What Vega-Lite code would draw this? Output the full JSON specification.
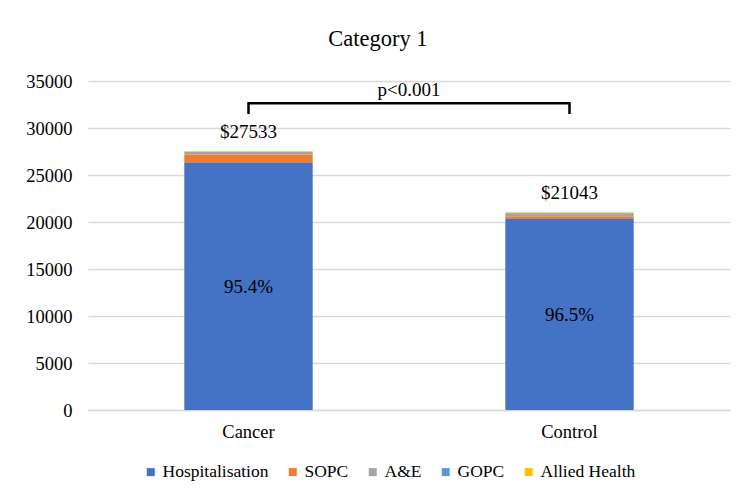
{
  "$schema": "https://vega.github.io/schema/vega-lite/v6.json",
  "width": 642,
  "height": 329,
  "autosize": {"type": "none"},
  "padding": {"left": 88, "top": 81, "right": 17, "bottom": 93},
  "background": "white",
  "config": {
    "view": {"stroke": null},
    "font": "Liberation Serif",
    "text": {"font": "Liberation Serif"}
  },
  "title": {
    "text": "Category 1",
    "font": "Liberation Serif",
    "fontSize": 22.5,
    "fontWeight": "normal",
    "color": "#000000",
    "anchor": "middle",
    "frame": "bounds",
    "offset": 22
  },
  "datasets": {
    "costs": [
      {"group": "Cancer", "service": "Hospitalisation", "idx": 1, "cost": 26266},
      {"group": "Cancer", "service": "SOPC", "idx": 2, "cost": 890},
      {"group": "Cancer", "service": "A&E", "idx": 3, "cost": 290},
      {"group": "Cancer", "service": "GOPC", "idx": 4, "cost": 30},
      {"group": "Cancer", "service": "Allied Health", "idx": 5, "cost": 57},
      {"group": "Control", "service": "Hospitalisation", "idx": 1, "cost": 20306},
      {"group": "Control", "service": "SOPC", "idx": 2, "cost": 300},
      {"group": "Control", "service": "A&E", "idx": 3, "cost": 330},
      {"group": "Control", "service": "GOPC", "idx": 4, "cost": 40},
      {"group": "Control", "service": "Allied Health", "idx": 5, "cost": 67}
    ],
    "labels": [
      {"group": "Cancer", "total": 27533, "totalLabel": "$27533", "pctLabel": "95.4%", "pctPos": 13133},
      {"group": "Control", "total": 21043, "totalLabel": "$21043", "pctLabel": "96.5%", "pctPos": 10153}
    ],
    "bracket": [
      {"group": "Cancer", "step": 1, "y": 31490},
      {"group": "Cancer", "step": 2, "y": 32640},
      {"group": "Control", "step": 3, "y": 32640},
      {"group": "Control", "step": 4, "y": 31490}
    ],
    "ptext": [
      {"label": "p<0.001", "y": 34050}
    ]
  },
  "layer": [
    {
      "data": {"name": "costs"},
      "mark": {"type": "bar"},
      "encoding": {
        "x": {
          "field": "group", "type": "nominal", "sort": ["Cancer", "Control"],
          "scale": {"paddingInner": 0.6, "paddingOuter": 0.3},
          "axis": {
            "title": null, "labelAngle": 0, "ticks": false,
            "domainColor": "#d9d9d9", "domainWidth": 1.5,
            "labelFont": "Liberation Serif", "labelFontSize": 18.5,
            "labelColor": "#000000", "labelPadding": 12
          }
        },
        "y": {
          "field": "cost", "type": "quantitative", "aggregate": "sum", "stack": "zero",
          "scale": {"domain": [0, 35000], "nice": false},
          "axis": {
            "title": null, "values": [0, 5000, 10000, 15000, 20000, 25000, 30000, 35000],
            "format": "d", "domain": false, "ticks": false,
            "gridColor": "#d9d9d9", "gridWidth": 1.5,
            "labelFont": "Liberation Serif", "labelFontSize": 18.5,
            "labelColor": "#000000", "labelPadding": 16
          }
        },
        "color": {
          "field": "service", "type": "nominal",
          "scale": {
            "domain": ["Hospitalisation", "SOPC", "A&E", "GOPC", "Allied Health"],
            "range": ["#4472C4", "#ED7D31", "#A5A5A5", "#5B9BD5", "#FFC000"]
          },
          "legend": {
            "title": null, "orient": "none", "legendX": 54, "legendY": 382,
            "direction": "horizontal", "columns": 5,
            "symbolType": "square", "symbolSize": 64, "symbolStrokeWidth": 0,
            "labelFont": "Liberation Serif", "labelFontSize": 17.5, "labelColor": "#000000",
            "columnPadding": 15, "labelOffset": 3
          }
        },
        "order": {"field": "idx", "type": "quantitative", "sort": "ascending"}
      }
    },
    {
      "data": {"name": "labels"},
      "mark": {"type": "text", "baseline": "middle", "dy": -19, "fontSize": 19, "color": "#000000"},
      "encoding": {
        "x": {"field": "group", "type": "nominal", "sort": ["Cancer", "Control"]},
        "y": {"field": "total", "type": "quantitative"},
        "text": {"field": "totalLabel"}
      }
    },
    {
      "data": {"name": "labels"},
      "mark": {"type": "text", "baseline": "middle", "fontSize": 19, "color": "#000000"},
      "encoding": {
        "x": {"field": "group", "type": "nominal", "sort": ["Cancer", "Control"]},
        "y": {"field": "pctPos", "type": "quantitative"},
        "text": {"field": "pctLabel"}
      }
    },
    {
      "data": {"name": "bracket"},
      "mark": {"type": "line", "color": "#000000", "strokeWidth": 2.5, "strokeCap": "butt", "strokeJoin": "miter"},
      "encoding": {
        "x": {"field": "group", "type": "nominal", "sort": ["Cancer", "Control"]},
        "y": {"field": "y", "type": "quantitative"},
        "order": {"field": "step", "type": "quantitative"}
      }
    },
    {
      "data": {"name": "ptext"},
      "mark": {"type": "text", "baseline": "middle", "fontSize": 19, "color": "#000000"},
      "encoding": {
        "y": {"field": "y", "type": "quantitative"},
        "text": {"field": "label"}
      }
    }
  ]
}
